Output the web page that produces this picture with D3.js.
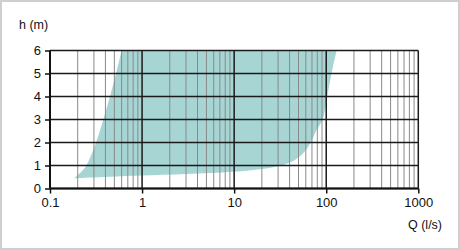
<!DOCTYPE html>
<html>
<head>
<meta charset="utf-8">
<script src="https://cdn.jsdelivr.net/npm/d3@7"></script>
<style>
  html, body { margin: 0; padding: 0; background: #fff; }
  svg { display: block; font-family: "Liberation Sans", Arial, Helvetica, sans-serif; }
</style>
</head>
<body>
<svg id="chart" width="460" height="250"></svg>
<script>
// ---- data ----
const xTickValues = [0.1, 1, 10, 100, 1000];
const xTickLabels = ["0.1", "1", "10", "100", "1000"];
const yTickValues = [0, 1, 2, 3, 4, 5, 6];
const yTickLabels = ["0", "1", "2", "3", "4", "5", "6"];
const xTitle = "Q (l/s)";
const yTitle = "h (m)";

// envelope: left edge (bottom tip upward)
const leftQ = [0.182, 0.215, 0.246, 0.316, 0.379, 0.448, 0.521, 0.600, 0.69];
const leftH = [0.44, 0.70, 0.98, 2.0, 3.0, 4.0, 5.0, 6.0, 7.0];
// envelope: right edge then bottom edge (top downward, then back to tip)
const rightBottomQ = [150, 129.8, 114, 102.6, 91.4, 78.7, 67.7, 56.2, 46, 39, 30, 20, 9.77, 3.05, 0.95, 0.182];
const rightBottomH = [7.0, 6.0, 5.0, 4.0, 3.0, 2.54, 2.0, 1.53, 1.25, 1.11, 0.97, 0.85, 0.73, 0.63, 0.56, 0.44];

// ---- layout ----
const svg = d3.select("#chart");
const W = 460, H = 250;
const m = { left: 50, right: 41.7, top: 50.5, bottom: 61.5 };

const x = d3.scaleLog().domain([0.1, 1000]).range([m.left, W - m.right]);
const y = d3.scaleLinear().domain([0, 6]).range([H - m.bottom, m.top]);

// outer border
svg.append("rect")
  .attr("x", 1).attr("y", 1).attr("width", W - 2).attr("height", H - 2)
  .attr("fill", "#fff").attr("stroke", "#cfcfcf").attr("stroke-width", 2);

svg.append("clipPath").attr("id", "plotclip")
  .append("rect")
  .attr("x", x.range()[0]).attr("y", y.range()[1])
  .attr("width", x.range()[1] - x.range()[0])
  .attr("height", y.range()[0] - y.range()[1]);

// envelope area
const line = d3.line().x(d => x(d[0])).y(d => y(d[1])).curve(d3.curveCatmullRom.alpha(0.5));
const leftPts = leftQ.map((q, i) => [q, leftH[i]]);
const rbPts = rightBottomQ.map((q, i) => [q, rightBottomH[i]]);
const pathD = line(leftPts) + line(rbPts).replace(/^M/, "L") + "Z";
svg.append("path")
  .attr("d", pathD)
  .attr("fill", "#a7d5d4")
  .attr("clip-path", "url(#plotclip)");

// minor vertical grid
const minor = x.ticks().filter(v => !xTickValues.some(t => Math.abs(t - v) < 1e-9));
svg.append("g").selectAll("line").data(minor).join("line")
  .attr("x1", d => x(d)).attr("x2", d => x(d))
  .attr("y1", y(0)).attr("y2", y(6))
  .attr("stroke", "#8a8a8a").attr("stroke-width", 1);

// major horizontal grid
svg.append("g").selectAll("line").data(yTickValues).join("line")
  .attr("x1", x(0.1)).attr("x2", x(1000))
  .attr("y1", d => y(d)).attr("y2", d => y(d))
  .attr("stroke", "#1a1a1a").attr("stroke-width", 1.5);

// major vertical grid
svg.append("g").selectAll("line").data(xTickValues).join("line")
  .attr("x1", d => x(d)).attr("x2", d => x(d))
  .attr("y1", y(0)).attr("y2", y(6))
  .attr("stroke", "#1a1a1a").attr("stroke-width", 1.5);

// axes
const xAxis = d3.axisBottom(x).tickValues(xTickValues)
  .tickFormat((d, i) => xTickLabels[i]).tickSize(5).tickPadding(4);
const yAxis = d3.axisLeft(y).tickValues(yTickValues)
  .tickFormat((d, i) => yTickLabels[i]).tickSize(5).tickPadding(4);

const gx = svg.append("g").attr("transform", `translate(0,${y(0)})`).call(xAxis);
const gy = svg.append("g").attr("transform", `translate(${x(0.1)},0)`).call(yAxis);
[gx, gy].forEach(g => {
  g.select(".domain").attr("stroke", "#111").attr("stroke-width", 2);
  g.selectAll(".tick line").attr("stroke", "#111").attr("stroke-width", 1.5);
  g.selectAll(".tick text").attr("fill", "#111").style("font-size", "13px")
    .style("font-family", '"Liberation Sans", Arial, sans-serif');
});
gx.select(".domain").attr("d", `M${x(0.1)},0H${x(1000)}`);
gy.select(".domain").attr("d", `M0,${y(0)}V${y(6)}`);

// titles
svg.append("text").attr("x", 19).attr("y", 28.5)
  .style("font-size", "12.5px").attr("fill", "#111").text(yTitle);
svg.append("text").attr("x", 408).attr("y", 228.5)
  .style("font-size", "12.5px").attr("fill", "#111").text(xTitle);
</script>
</body>
</html>
